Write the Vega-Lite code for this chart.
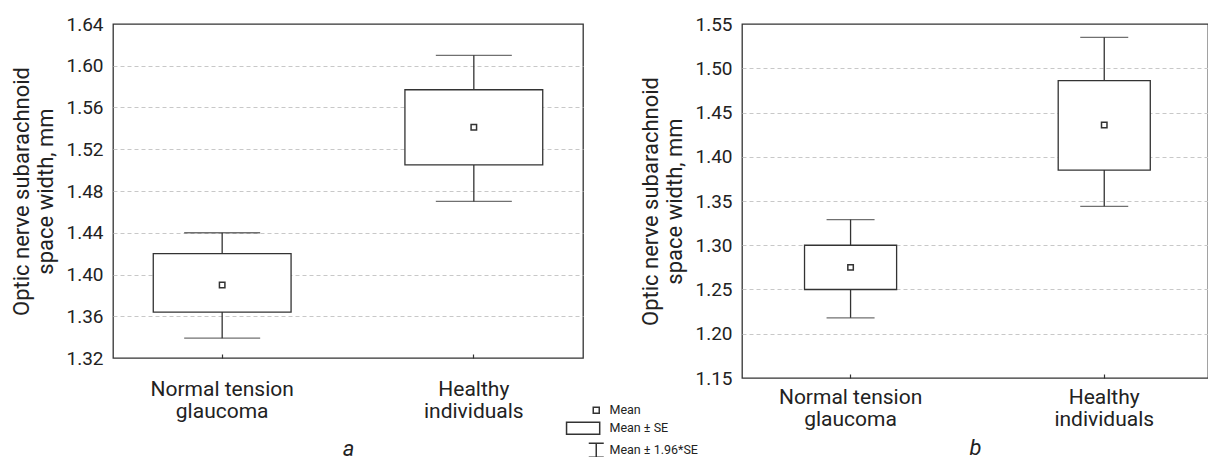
{
  "$schema": "https://vega.github.io/schema/vega-lite/v6.json",
  "padding": {"left": 10, "top": 14, "right": 0, "bottom": 0},
  "autosize": {"type": "pad"},
  "background": "white",
  "bounds": "flush",
  "spacing": 159,
  "config": {
    "font": "Roboto",
    "view": {"stroke": "#333", "strokeWidth": 1.3},
    "axis": {"labelColor": "#222", "titleColor": "#222", "domain": false, "titleFontWeight": "normal"}
  },
  "resolve": {"scale": {"shape": "independent"}, "legend": {"shape": "independent"}},
  "datasets": {
    "a": [
      {"group": "Normal tension glaucoma", "mean": 1.390, "se_lo": 1.364, "se_hi": 1.420, "ci_lo": 1.339, "ci_hi": 1.440},
      {"group": "Healthy individuals", "mean": 1.541, "se_lo": 1.505, "se_hi": 1.577, "ci_lo": 1.470, "ci_hi": 1.610}
    ],
    "b": [
      {"group": "Normal tension glaucoma", "mean": 1.275, "se_lo": 1.250, "se_hi": 1.300, "ci_lo": 1.218, "ci_hi": 1.329},
      {"group": "Healthy individuals", "mean": 1.436, "se_lo": 1.385, "se_hi": 1.486, "ci_lo": 1.344, "ci_hi": 1.535}
    ],
    "legend": [
      {"item": "Mean"},
      {"item": "Mean ± SE"},
      {"item": "Mean ± 1.96*SE"}
    ]
  },
  "hconcat": [
    {
      "width": 470,
      "height": 334,
      "layer": [
        {
          "data": {"name": "a"},
          "encoding": {
            "x": {
              "field": "group", "type": "nominal", "sort": null,
              "scale": {"paddingInner": 0.4524, "paddingOuter": 0.16},
              "axis": {
                "title": "a", "titleFontStyle": "italic", "titleFontSize": 22, "titlePadding": 17,
                "labelFontSize": 21, "labelAngle": 0, "labelLineHeight": 22, "labelPadding": 24,
                "labelExpr": "datum.value == 'Normal tension glaucoma' ? ['Normal tension', 'glaucoma'] : ['Healthy', 'individuals']",
                "ticks": true, "tickSize": -4, "tickColor": "#333", "tickWidth": 1.2, "grid": false
              }
            }
          },
          "layer": [
            {
              "mark": {"type": "rule", "color": "#333", "strokeWidth": 1.3},
              "encoding": {
                "y": {
                  "field": "ci_lo", "type": "quantitative",
                  "scale": {"domain": [1.32, 1.64], "nice": false, "zero": false},
                  "axis": {
                    "values": [1.32, 1.36, 1.40, 1.44, 1.48, 1.52, 1.56, 1.60, 1.64],
                    "format": ".2f", "ticks": false, "labelPadding": 10, "labelFontSize": 19,
                    "title": ["Optic nerve subarachnoid", "space width, mm"],
                    "titleFontSize": 22, "titlePadding": 8,
                    "grid": true, "gridColor": "#c8c8c8", "gridDash": [4, 3],
                    "gridOpacity": {"condition": {"test": "datum.value < 1.3205 || datum.value > 1.6395", "value": 0}, "value": 1}
                  }
                },
                "y2": {"field": "ci_hi"}
              }
            },
            {
              "mark": {"type": "tick", "size": 76, "thickness": 1.3, "color": "#333"},
              "encoding": {"y": {"field": "ci_lo", "type": "quantitative"}}
            },
            {
              "mark": {"type": "tick", "size": 76, "thickness": 1.3, "color": "#333"},
              "encoding": {"y": {"field": "ci_hi", "type": "quantitative"}}
            },
            {
              "mark": {"type": "bar", "fill": "white", "stroke": "#333", "strokeWidth": 1.3},
              "encoding": {"y": {"field": "se_lo", "type": "quantitative"}, "y2": {"field": "se_hi"}}
            },
            {
              "mark": {"type": "point", "shape": "square", "size": 30, "filled": true, "fill": "white", "stroke": "#333", "strokeWidth": 1.5, "opacity": 1},
              "encoding": {"y": {"field": "mean", "type": "quantitative"}}
            }
          ]
        },
        {
          "data": {"name": "legend"},
          "mark": {"type": "point", "opacity": 0, "size": 36, "color": "#333"},
          "encoding": {
            "shape": {
              "field": "item", "type": "nominal", "sort": null,
              "scale": {
                "domain": ["Mean", "Mean ± SE", "Mean ± 1.96*SE"],
                "range": ["M-1,-1H1V1H-1Z", "M-9.9,-2H1.15V2H-9.9Z", "M-2.5,-2.3H2.5M0,-2.3V2.3M-2.5,2.3H2.5"]
              },
              "legend": {
                "title": null, "orient": "none", "legendX": 477, "legendY": 380,
                "labelFontSize": 12.5, "labelOffset": 7, "rowPadding": 2, "symbolSize": 36,
                "labelColor": "#222",
                "encode": {"symbols": {"update": {"opacity": {"value": 1}, "fillOpacity": {"value": 1}, "strokeOpacity": {"value": 1}, "fill": {"value": "white"}, "stroke": {"value": "#333"}, "strokeWidth": {"value": 1.2}}}}
              }
            }
          }
        }
      ]
    },
    {
      "width": 466,
      "height": 354,
      "data": {"name": "b"},
      "encoding": {
        "x": {
          "field": "group", "type": "nominal", "sort": null,
          "scale": {"paddingInner": 0.637, "paddingOuter": 0.237, "align": 0.52},
          "axis": {
            "title": "b", "titleFontStyle": "italic", "titleFontSize": 22, "titlePadding": 8,
            "labelFontSize": 21, "labelAngle": 0, "labelLineHeight": 22, "labelPadding": 12,
            "labelExpr": "datum.value == 'Normal tension glaucoma' ? ['Normal tension', 'glaucoma'] : ['Healthy', 'individuals']",
            "ticks": true, "tickSize": -4, "tickColor": "#333", "tickWidth": 1.2, "grid": false
          }
        }
      },
      "layer": [
        {
          "mark": {"type": "rule", "color": "#333", "strokeWidth": 1.3},
          "encoding": {
            "y": {
              "field": "ci_lo", "type": "quantitative",
              "scale": {"domain": [1.15, 1.55], "nice": false, "zero": false},
              "axis": {
                "values": [1.15, 1.20, 1.25, 1.30, 1.35, 1.40, 1.45, 1.50, 1.55],
                "format": ".2f", "ticks": false, "labelPadding": 10, "labelFontSize": 19,
                "title": ["Optic nerve subarachnoid", "space width, mm"],
                "titleFontSize": 22, "titlePadding": 8,
                "grid": true, "gridColor": "#c8c8c8", "gridDash": [4, 3],
                "gridOpacity": {"condition": {"test": "datum.value < 1.1505 || datum.value > 1.5495", "value": 0}, "value": 1}
              }
            },
            "y2": {"field": "ci_hi"}
          }
        },
        {
          "mark": {"type": "tick", "size": 48, "thickness": 1.3, "color": "#333"},
          "encoding": {"y": {"field": "ci_lo", "type": "quantitative"}}
        },
        {
          "mark": {"type": "tick", "size": 48, "thickness": 1.3, "color": "#333"},
          "encoding": {"y": {"field": "ci_hi", "type": "quantitative"}}
        },
        {
          "mark": {"type": "bar", "fill": "white", "stroke": "#333", "strokeWidth": 1.3},
          "encoding": {"y": {"field": "se_lo", "type": "quantitative"}, "y2": {"field": "se_hi"}}
        },
        {
          "mark": {"type": "point", "shape": "square", "size": 30, "filled": true, "fill": "white", "stroke": "#333", "strokeWidth": 1.5, "opacity": 1},
          "encoding": {"y": {"field": "mean", "type": "quantitative"}}
        }
      ]
    }
  ]
}
